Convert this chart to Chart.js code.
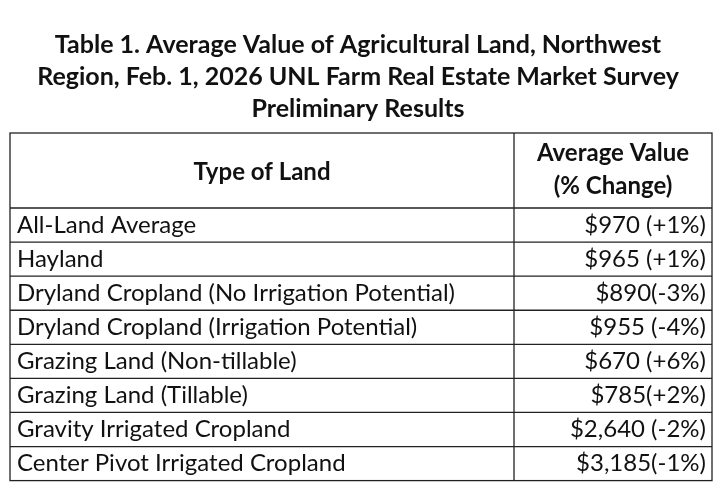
<!DOCTYPE html>
<html><head><meta charset="utf-8">
<script src="https://cdn.jsdelivr.net/npm/chart.js@4"></script>
<style>html,body{margin:0;padding:0;background:#fff}#w{width:720px;height:495px}</style>
</head><body><div id="w"><canvas id="c"></canvas></div>
<script>
const titleLines = ["Table 1. Average Value of Agricultural Land, Northwest","Region, Feb. 1, 2026 UNL Farm Real Estate Market Survey","Preliminary Results"];
const headers = ["Type of Land","Average Value","(% Change)"];
const categories = ["All-Land Average","Hayland","Dryland Cropland (No Irrigation Potential)","Dryland Cropland (Irrigation Potential)","Grazing Land (Non-tillable)","Grazing Land (Tillable)","Gravity Irrigated Cropland","Center Pivot Irrigated Cropland"];
const values = [970,965,890,955,670,785,2640,3185];
const valueLabels = ["$970 (+1%)","$965 (+1%)","$890(-3%)","$955 (-4%)","$670 (+6%)","$785(+2%)","$2,640 (-2%)","$3,185(-1%)"];
const FONT = "Lato, 'Liberation Sans', sans-serif";
const tablePlugin = {
  id:'tbl',
  afterDraw(chart){
    const ctx = chart.ctx, a = chart.chartArea, y = chart.scales.y;
    const L = 10, R = a.right, T = 133, B = a.bottom;
    ctx.save();
    ctx.fillStyle = '#111'; ctx.textAlign='center'; ctx.textBaseline='middle';
    ctx.font = "bold 25px " + FONT;
    titleLines.forEach((t,i)=>ctx.fillText(t,358,45+i*32));
    ctx.font = "bold 24px " + FONT;
    ctx.fillText(headers[0], (L+a.left)/2, 172);
    ctx.fillText(headers[1], (a.left+R)/2, 153);
    ctx.fillText(headers[2], (a.left+R)/2, 186);
    ctx.font = "24px " + FONT; ctx.textAlign='right';
    valueLabels.forEach((t,i)=>ctx.fillText(t, R-6, y.getPixelForValue(i)));
    ctx.strokeStyle='#222'; ctx.lineWidth=1.3;
    ctx.strokeRect(L,T,R-L,B-T);
    ctx.beginPath(); ctx.moveTo(a.left,T); ctx.lineTo(a.left,B);
    ctx.moveTo(L,a.top); ctx.lineTo(R,a.top);
    for(let i=0;i<categories.length-1;i++){
      const m=(y.getPixelForValue(i)+y.getPixelForValue(i+1))/2;
      ctx.moveTo(L,m); ctx.lineTo(R,m);
    }
    ctx.stroke(); ctx.restore();
  }
};
new Chart(document.getElementById('c'),{
  type:'bar',
  data:{labels:categories,datasets:[{data:values,backgroundColor:'rgba(0,0,0,0)',borderWidth:0}]},
  options:{
    indexAxis:'y',responsive:true,maintainAspectRatio:false,animation:false,
    layout:{padding:{top:208,left:17,right:8,bottom:6}},
    plugins:{legend:{display:false},tooltip:{enabled:false}},
    scales:{
      x:{display:false,min:0,max:3500},
      y:{grid:{display:false},border:{display:false},
         afterFit(s){s.width=497;},
         ticks:{crossAlign:'far',padding:0,color:'#111',font:{family:FONT,size:24}}}
    }
  },
  plugins:[tablePlugin]
});
</script></body></html>
